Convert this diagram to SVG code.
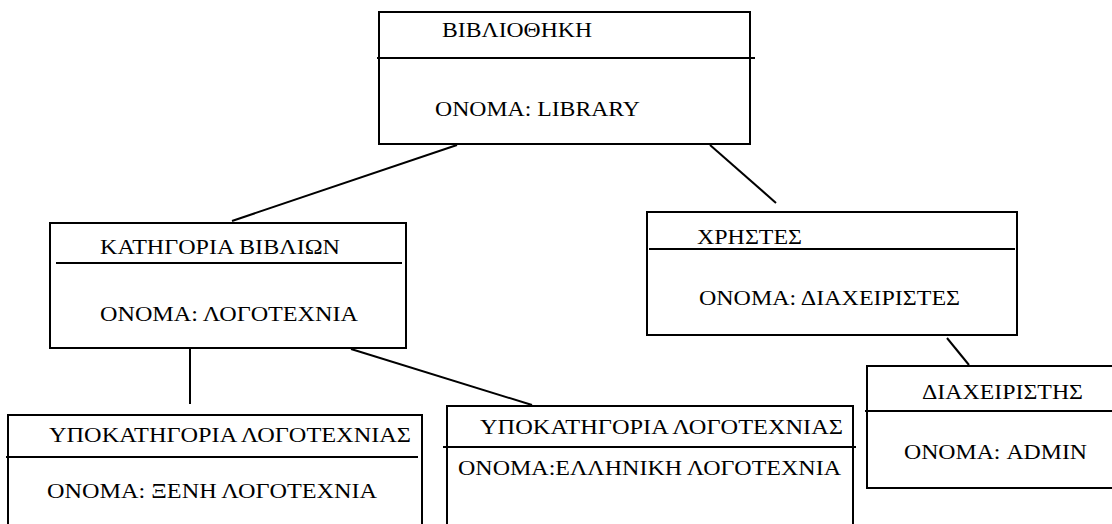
<svg xmlns="http://www.w3.org/2000/svg" width="1112" height="524" viewBox="0 0 1112 524">
  <style>
    .box { fill: #ffffff; stroke: #000000; stroke-width: 2; }
    .rule { stroke: #000000; stroke-width: 2; }
    .link { stroke: #000000; stroke-width: 2; fill: none; }
    .label { font-family: 'Liberation Serif', 'DejaVu Serif', 'Times New Roman', serif; font-size: 21px; fill: #000000; }
  </style>
  <rect width="1112" height="524" fill="#ffffff"/>

  <g id="connectors">
    <line class="link" x1="457" y1="145" x2="232" y2="221"/>
    <line class="link" x1="710" y1="145" x2="776" y2="203"/>
    <line class="link" x1="190" y1="348" x2="190" y2="404"/>
    <line class="link" x1="351" y1="349" x2="532" y2="405"/>
    <line class="link" x1="947" y1="338" x2="969" y2="365"/>
  </g>

  <g id="library">
    <rect class="box" x="379" y="12" width="371" height="132"/>
    <line class="rule" x1="377" y1="58" x2="755" y2="58"/>
    <text class="label" x="442" y="37" textLength="150" lengthAdjust="spacingAndGlyphs">ΒΙΒΛΙΟΘΗΚΗ</text>
    <text class="label" x="435" y="116" textLength="205" lengthAdjust="spacingAndGlyphs">ΟΝΟΜΑ: LIBRARY</text>
  </g>

  <g id="book-category">
    <rect class="box" x="50" y="223" width="356" height="125"/>
    <line class="rule" x1="56" y1="263" x2="402" y2="263"/>
    <text class="label" x="100" y="254" textLength="240" lengthAdjust="spacingAndGlyphs">ΚΑΤΗΓΟΡΙΑ ΒΙΒΛΙΩΝ</text>
    <text class="label" x="100" y="321" textLength="258" lengthAdjust="spacingAndGlyphs">ΟΝΟΜΑ: ΛΟΓΟΤΕΧΝΙΑ</text>
  </g>

  <g id="users">
    <rect class="box" x="647" y="212" width="370" height="123"/>
    <line class="rule" x1="649" y1="249" x2="1015" y2="249"/>
    <text class="label" x="697" y="244" textLength="105" lengthAdjust="spacingAndGlyphs">ΧΡΗΣΤΕΣ</text>
    <text class="label" x="699" y="305" textLength="261" lengthAdjust="spacingAndGlyphs">ΟΝΟΜΑ: ΔΙΑΧΕΙΡΙΣΤΕΣ</text>
  </g>

  <g id="admin">
    <rect class="box" x="867" y="366" width="250" height="122"/>
    <line class="rule" x1="865" y1="411" x2="1112" y2="411"/>
    <text class="label" x="922" y="399" textLength="161" lengthAdjust="spacingAndGlyphs">ΔΙΑΧΕΙΡΙΣΤΗΣ</text>
    <text class="label" x="904" y="459" textLength="183" lengthAdjust="spacingAndGlyphs">ΟΝΟΜΑ: ADMIN</text>
  </g>

  <g id="subcategory-foreign">
    <rect class="box" x="8" y="415" width="414" height="120"/>
    <line class="rule" x1="6" y1="457" x2="418" y2="457"/>
    <text class="label" x="49" y="442" textLength="362" lengthAdjust="spacingAndGlyphs">ΥΠΟΚΑΤΗΓΟΡΙΑ ΛΟΓΟΤΕΧΝΙΑΣ</text>
    <text class="label" x="47" y="498" textLength="330" lengthAdjust="spacingAndGlyphs">ΟΝΟΜΑ: ΞΕΝΗ ΛΟΓΟΤΕΧΝΙΑ</text>
  </g>

  <g id="subcategory-greek">
    <rect class="box" x="447" y="406" width="406" height="130"/>
    <line class="rule" x1="443" y1="447" x2="856" y2="447"/>
    <text class="label" x="480" y="434" textLength="363" lengthAdjust="spacingAndGlyphs">ΥΠΟΚΑΤΗΓΟΡΙΑ ΛΟΓΟΤΕΧΝΙΑΣ</text>
    <text class="label" x="458" y="475" textLength="383" lengthAdjust="spacingAndGlyphs">ΟΝΟΜΑ:ΕΛΛΗΝΙΚΗ ΛΟΓΟΤΕΧΝΙΑ</text>
  </g>
</svg>
